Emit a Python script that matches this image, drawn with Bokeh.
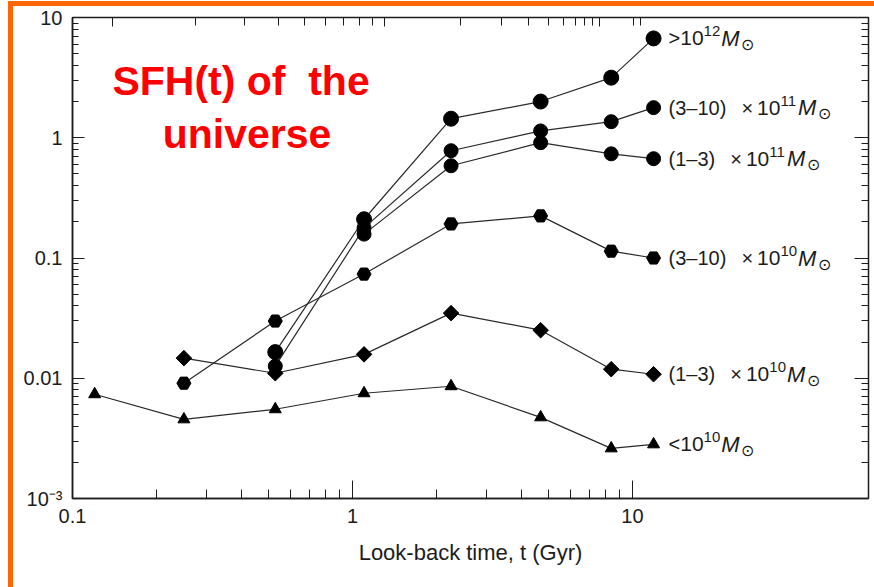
from bokeh.plotting import figure
from bokeh.models import Range1d, LogAxis, FixedTicker, Label, CustomJSTickFormatter
from bokeh.embed import file_html
from bokeh.resources import INLINE

# Star-formation rate histories per stellar-mass bin versus look-back time (Gyr)
t_m12 = [0.53, 1.1, 2.25, 4.7, 8.4, 11.9]
sfr_m12 = [0.0165, 0.21, 1.44, 2.0, 3.16, 6.7]

t_m11_hi = [0.53, 1.1, 2.25, 4.7, 8.4, 11.9]
sfr_m11_hi = [0.0126, 0.178, 0.78, 1.14, 1.36, 1.78]

t_m11_lo = [1.1, 2.25, 4.7, 8.4, 11.9]
sfr_m11_lo = [0.158, 0.585, 0.91, 0.735, 0.67]

t_m10_hi = [0.25, 0.53, 1.1, 2.25, 4.7, 8.4, 11.9]
sfr_m10_hi = [0.0091, 0.0299, 0.0735, 0.192, 0.224, 0.114, 0.100]

t_m10_lo = [0.25, 0.53, 1.1, 2.25, 4.7, 8.4, 11.9]
sfr_m10_lo = [0.0147, 0.0110, 0.0158, 0.0348, 0.0251, 0.0119, 0.0108]

t_m10_lt = [0.12, 0.25, 0.53, 1.1, 2.25, 4.7, 8.4, 11.9]
sfr_m10_lt = [0.00736, 0.00455, 0.00552, 0.0075, 0.00858, 0.00473, 0.00261, 0.00282]

# Mass-bin labels: prefix and power of ten
label_prefix = [">", "(3\u201310)", "(1\u20133)", "(3\u201310)", "(1\u20133)", "<"]
label_exponent = ["12", "11", "11", "10", "10", "10"]

# (times, rates, marker, size, angle)
series = [
    (t_m12, sfr_m12, "circle", 15, 0.0),
    (t_m11_hi, sfr_m11_hi, "circle", 14, 0.0),
    (t_m11_lo, sfr_m11_lo, "circle", 14, 0.0),
    (t_m10_hi, sfr_m10_hi, "hex", 14, 0.0),
    (t_m10_lo, sfr_m10_lo, "square", 11, 0.785398),
    (t_m10_lt, sfr_m10_lt, "triangle", 12, 0.0),
]

# Redshift ticks of the upper axis, placed at their look-back times (Gyr)
z_major_gyr = [0.139, 1.30, 7.65]
z_minor_gyr = [0.276, 0.411, 0.544, 0.675, 0.804, 0.931, 1.056, 1.179,
               2.44, 3.42, 4.27, 5.02, 5.68, 6.26, 6.77, 7.23, 10.1, 10.7]

FONT = "Liberation Sans"
INK = "#1c1c1c"
ORANGE = "#ff6600"

p = figure(width=874, height=587, x_axis_type="log", y_axis_type="log",
           x_range=Range1d(0.1, 69.7), y_range=Range1d(1e-3, 10),
           output_backend="svg", toolbar_location=None,
           min_border_left=72, min_border_right=6,
           min_border_top=17, min_border_bottom=89)
p.grid.visible = False
p.outline_line_color = INK
p.outline_line_width = 1.5
p.background_fill_color = "white"
p.border_fill_color = None

# Orange slide frame painted behind the (transparent) border area
p.styles = {
    "background-color": "white",
    "background-image": f"linear-gradient({ORANGE},{ORANGE}), linear-gradient({ORANGE},{ORANGE})",
    "background-position": "8px 1px, 8px 1px",
    "background-size": "5px 586px, 866px 5px",
    "background-repeat": "no-repeat",
}

decades_x = [0.1, 1, 10]
minor_x = [d * k for d in [0.1, 1] for k in range(2, 10)]
decades_y = [1e-3, 1e-2, 1e-1, 1, 10]
minor_y = [d * k for d in [1e-3, 1e-2, 1e-1, 1] for k in range(2, 10)]

xa = p.xaxis[0]
xa.ticker = FixedTicker(ticks=decades_x, minor_ticks=minor_x)
xa.major_label_overrides = {0.1: "0.1", 1: "1", 10: "10"}
xa.major_tick_in, xa.major_tick_out = 18, 0
xa.minor_tick_in, xa.minor_tick_out = 9, 0
xa.major_label_standoff = 10
xa.axis_label = "Look-back time, t (Gyr)"
xa.axis_label_standoff = 14
xa.axis_label_text_font = FONT
xa.axis_label_text_font_style = "normal"
xa.axis_label_text_font_size = "22px"
xa.axis_label_text_color = INK

ya = p.yaxis[0]
ya.ticker = FixedTicker(ticks=decades_y, minor_ticks=minor_y)
ya.major_label_overrides = {1e-3: "10\u207b\u00b3", 0.01: "0.01", 0.1: "0.1", 1: "1", 10: "10"}
ya.major_tick_in, ya.major_tick_out = 12, 0
ya.minor_tick_in, ya.minor_tick_out = 6, 0
ya.major_label_standoff = 10

for ax in (xa, ya):
    ax.axis_line_color = INK
    ax.axis_line_width = 1.5
    ax.major_tick_line_color = INK
    ax.minor_tick_line_color = INK
    ax.major_label_text_font = FONT
    ax.major_label_text_font_size = "20px"
    ax.major_label_text_color = INK

top = LogAxis(ticker=FixedTicker(ticks=z_major_gyr, minor_ticks=z_minor_gyr))
top.major_tick_in, top.major_tick_out = 9, 0
top.minor_tick_in, top.minor_tick_out = 8, 0
right = LogAxis(ticker=FixedTicker(ticks=decades_y, minor_ticks=minor_y))
right.major_tick_in, right.major_tick_out = 14, 0
right.minor_tick_in, right.minor_tick_out = 7, 0
for ax in (top, right):
    ax.formatter = CustomJSTickFormatter(code="return ''")
    ax.major_label_text_font_size = "1px"
    ax.major_label_standoff = 0
    ax.axis_line_color = INK
    ax.major_tick_line_color = INK
    ax.minor_tick_line_color = INK
p.add_layout(top, "above")
p.add_layout(right, "right")

for tx, sy, marker, size, ang in series:
    p.line(tx, sy, line_color="#2a2a2a", line_width=1.2)
    p.scatter(tx, sy, marker=marker, size=size, angle=ang,
              fill_color="black", line_color="black")


ADV = {"(": 0.333, ")": 0.333, "\u2013": 0.556, ">": 0.584, "<": 0.584, " ": 0.278}


def width(s, size):
    return sum(ADV.get(c, 0.556) for c in s) * size


def piece(x, y, text, dx, dy=0, size=20, style="normal"):
    p.add_layout(Label(x=x, y=y, text=text, x_offset=dx, y_offset=dy,
                       text_font=FONT, text_font_size=f"{size}px", text_font_style=style,
                       text_color=INK, text_baseline="middle", text_align="left"))


# Mass-bin labels at the end of each curve
for (tx, sy, *_), prefix, expo in zip(series, label_prefix, label_exponent):
    x, y = tx[-1], sy[-1]
    dx = 15
    piece(x, y, prefix, dx)
    dx += width(prefix, 20)
    if prefix.startswith("("):
        dx += 15
        piece(x, y, "\u00d7", dx)
        dx += 0.584 * 20 + 4
    piece(x, y, "10", dx, size=21)
    dx += width("10", 21)
    piece(x, y, expo, dx, dy=7, size=15)
    dx += width(expo, 15) + 1
    piece(x, y, "M", dx, size=22, style="italic")
    dx += 20
    piece(x, y, "\u2299", dx, dy=-6, size=16)

# Red annotation text
for txt, lx, ly in [("SFH(t) of\u00a0 the", 0.40, 2.99), ("universe", 0.42, 1.08)]:
    p.add_layout(Label(x=lx, y=ly, text=txt, text_font=FONT, text_font_size="41px",
                       text_font_style="bold", text_color="#ff0000",
                       text_align="center", text_baseline="middle"))

open("out.html", "w").write(file_html(p, INLINE))
